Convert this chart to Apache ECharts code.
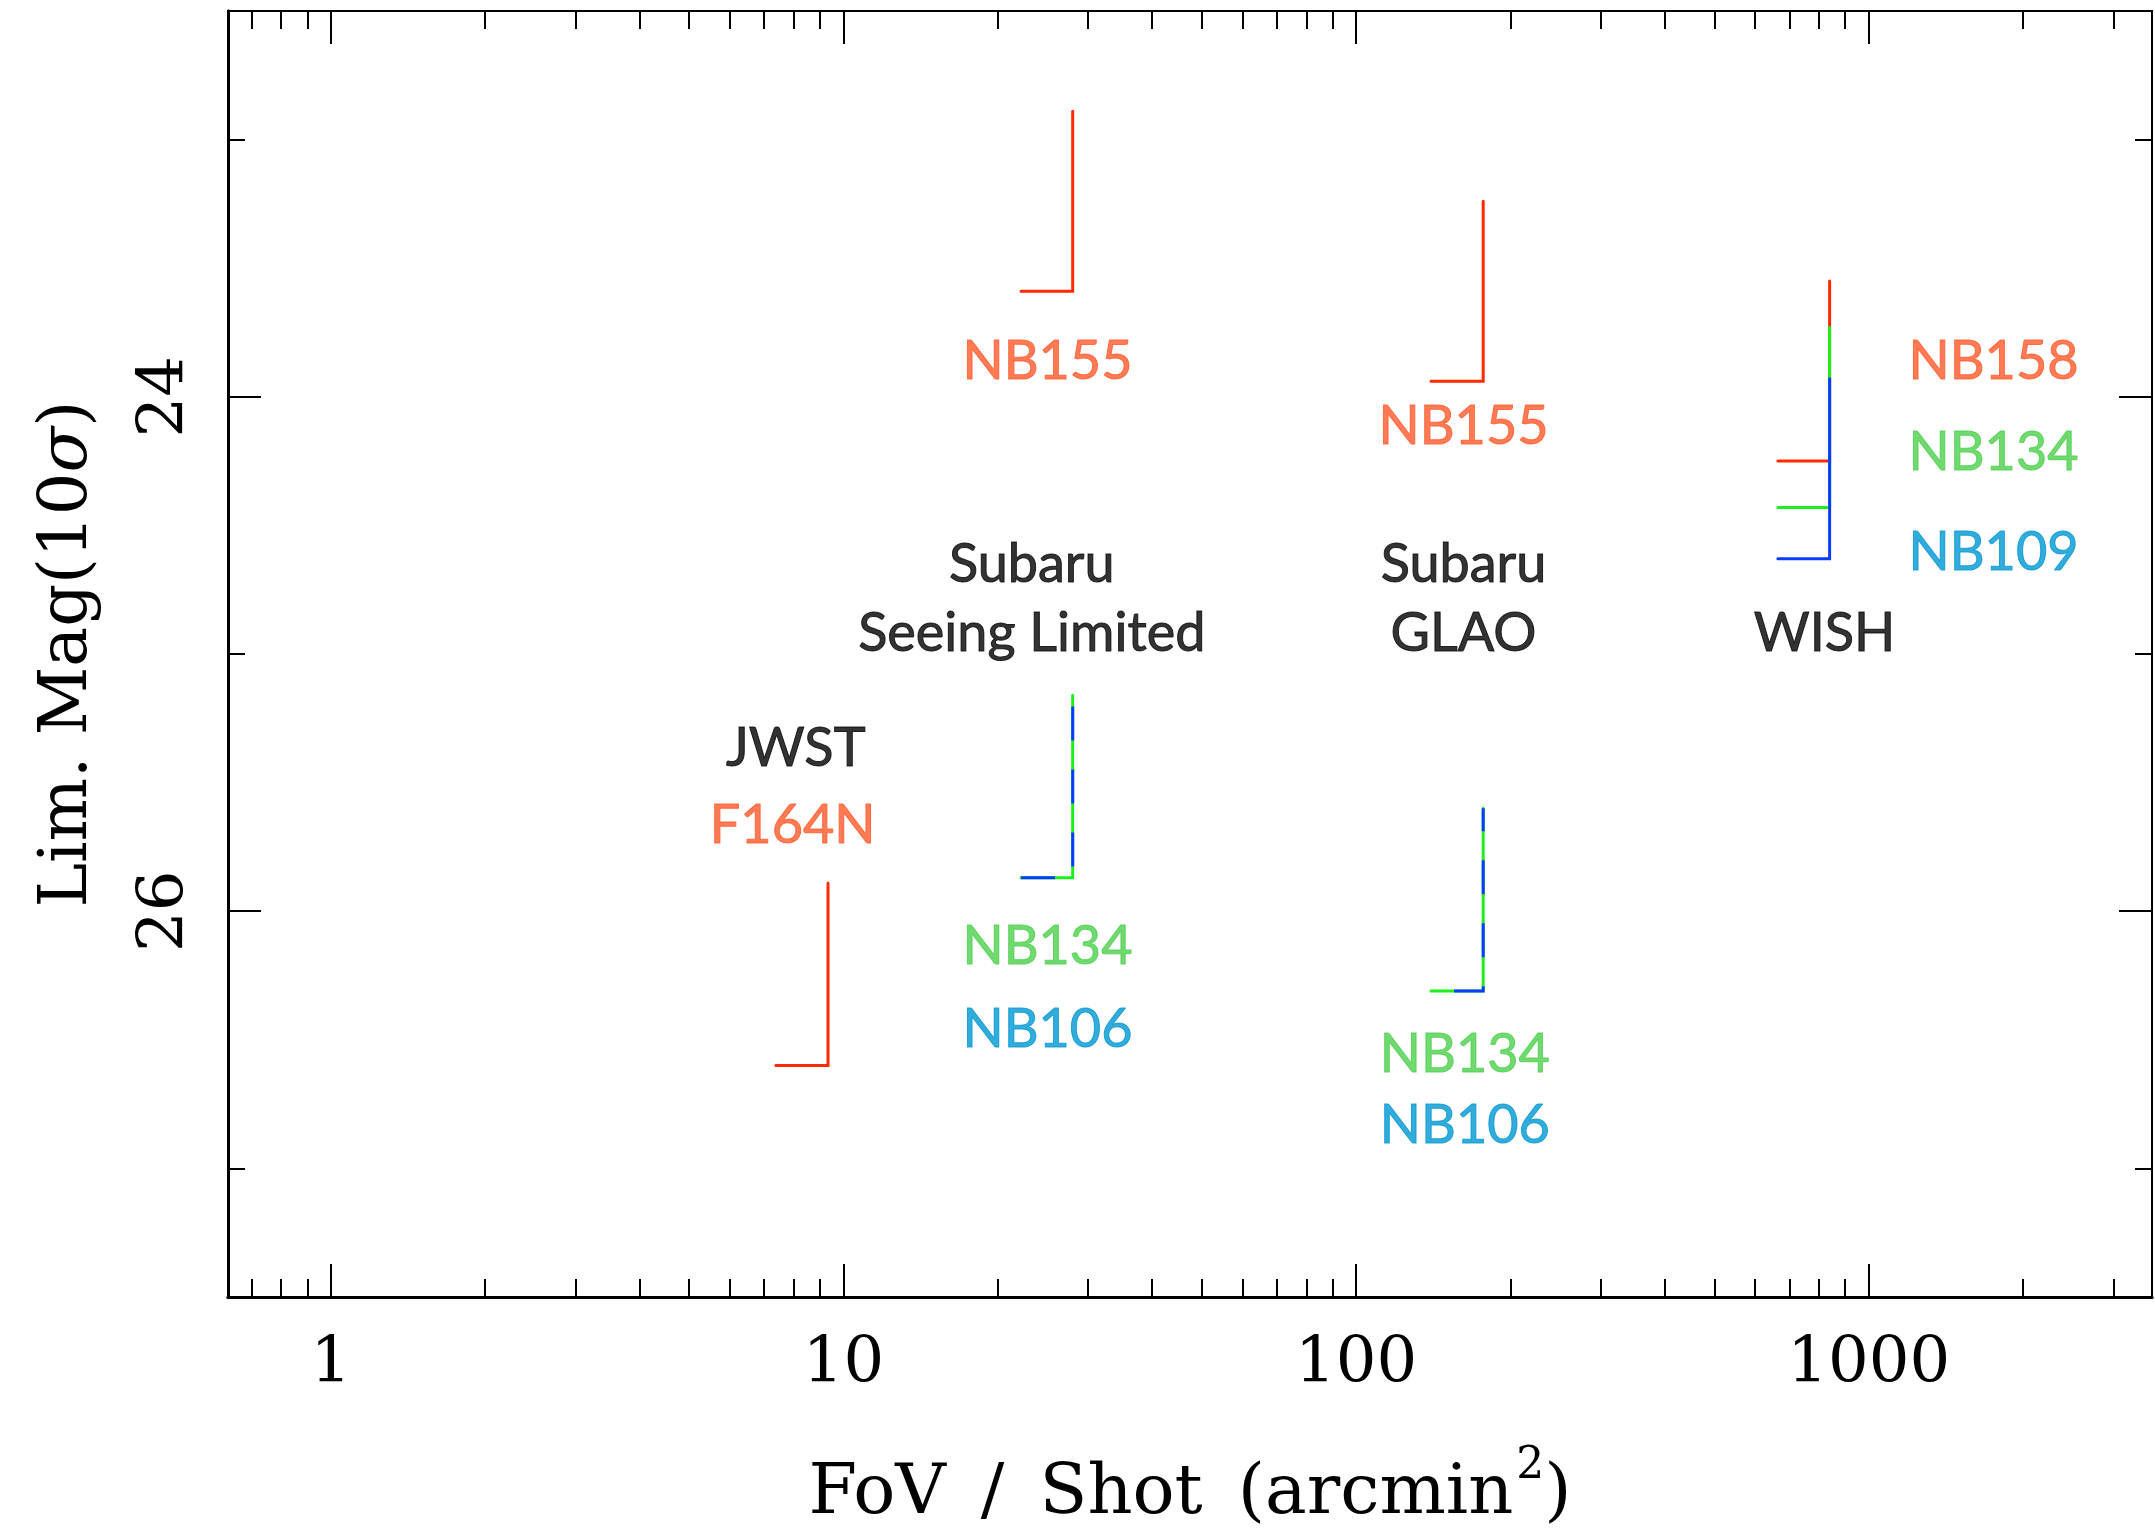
<!DOCTYPE html>
<html>
<head>
<meta charset="utf-8">
<title>Lim. Mag vs FoV / Shot</title>
<script src="https://cdn.jsdelivr.net/npm/echarts@6/dist/echarts.min.js"></script>
<style>
    html, body { margin: 0; padding: 0; background: #fff; }
    #chart { width: 2155px; height: 1539px; }
</style>
</head>
<body>
<div id="chart"></div>
<script>
    // one entry per L-shaped marker: vertical line at fovShot from magBright to magFaint,
    // short horizontal line at magFaint going left to fovLeftEnd
    const lineBand = ['NB155', 'NB155', 'NB158', 'NB134', 'NB109', 'NB134', 'NB106', 'NB134', 'NB106', 'F164N'];
    const fovShot = [28.0, 177, 839, 839, 839, 28.0, 28.0, 177, 177, 9.33];
    const fovLeftEnd = [22.2, 140, 665, 665, 665, 22.2, 22.2, 140, 140, 7.38];
    const magBright = [22.89, 23.24, 23.55, 23.73, 23.93, 25.16, 25.16, 25.60, 25.60, 25.89];
    const magFaint = [23.59, 23.94, 24.25, 24.43, 24.63, 25.87, 25.87, 26.31, 26.31, 26.60];

    // text annotations (data space)
    const labelText = ['NB155', 'NB155', 'NB158', 'NB134', 'NB109', 'Subaru', 'Seeing Limited', 'Subaru', 'GLAO', 'WISH',
        'JWST', 'F164N', 'NB134', 'NB106', 'NB134', 'NB106'];
    const labelFov = [25.0, 162, 1752, 1752, 1752, 23.3, 23.3, 162, 162, 820, 8.07, 7.96, 25.0, 25.0, 163, 163];
    const labelMag = [23.864, 24.114, 23.864, 24.217, 24.607, 24.654, 24.922, 24.654, 24.922, 24.922,
        25.367, 25.666, 26.136, 26.46, 26.556, 26.834];

    // axis ticks
    const xMajorTicks = [1, 10, 100, 1000];
    const xMinorTicks = [0.7, 0.8, 0.9, 2, 3, 4, 5, 6, 7, 8, 9, 20, 30, 40, 50, 60, 70, 80, 90,
        200, 300, 400, 500, 600, 700, 800, 900, 2000, 3000];
    const yMajorTicks = [24, 26];
    const yMinorTicks = [23, 25, 27];

    const lineColor = {NB155: '#ff2a00', NB158: '#ff2a00', F164N: '#ff2a00', NB134: '#1cf01c', NB109: '#0a3cff', NB106: '#0a3cff'};
    const textColor = {NB155: '#ff5a2a', NB158: '#ff5a2a', F164N: '#ff5a2a', NB134: '#4ccf4c', NB109: '#0097d2', NB106: '#0097d2'};
    // NB106 is drawn dashed on top of NB134 where both coincide
    const dashOffset = {6: 0, 8: 40};

    const serif = 'DejaVu Serif';
    const sans = 'Lato';

    function xAxisDef(position, ticks, len, withLabels, lineWidth) {
        return {
            type: 'log',
            logBase: 10,
            min: 0.63,
            max: 3570,
            position: position,
            axisLine: {show: true, lineStyle: {color: '#000', width: lineWidth}},
            axisTick: {show: true, inside: true, length: len, customValues: ticks, lineStyle: {color: '#000', width: 2}},
            axisLabel: withLabels ? {
                show: true,
                customValues: xMajorTicks,
                margin: 36,
                fontFamily: serif,
                fontSize: 64,
                color: '#000',
                formatter: v => String(Math.round(v))
            } : {show: false},
            splitLine: {show: false},
            minorTick: {show: false}
        };
    }

    function yAxisDef(position, ticks, len, withLabels, lineWidth) {
        return {
            type: 'value',
            inverse: true,
            min: 22.5,
            max: 27.5,
            position: position,
            axisLine: {show: true, lineStyle: {color: '#000', width: lineWidth}},
            axisTick: {show: true, inside: true, length: len, customValues: ticks, lineStyle: {color: '#000', width: 2}},
            axisLabel: withLabels ? {
                show: true,
                customValues: yMajorTicks,
                rotate: 90,
                margin: 30,
                fontFamily: serif,
                fontSize: 64,
                color: '#000'
            } : {show: false},
            splitLine: {show: false}
        };
    }

    const xAxes = [
        xAxisDef('bottom', xMajorTicks, 33, true, 3),
        xAxisDef('bottom', xMinorTicks, 18, false, 3),
        xAxisDef('top', xMajorTicks, 33, false, 2),
        xAxisDef('top', xMinorTicks, 18, false, 2)
    ];
    xAxes[0].name = '{n|FoV\u2002/\u2002Shot\u2002(arcmin}{s|2}{n|)}';
    xAxes[0].nameLocation = 'middle';
    xAxes[0].nameGap = 148;
    xAxes[0].nameTextStyle = {
        rich: {
            n: {fontFamily: serif, fontSize: 70, color: '#000', lineHeight: 100},
            s: {fontFamily: serif, fontSize: 44, color: '#000', lineHeight: 44, verticalAlign: 'top', padding: [0, 0, 0, 3]}
        }
    };

    const yAxes = [
        yAxisDef('left', yMajorTicks, 33, true, 3),
        yAxisDef('left', yMinorTicks, 17, false, 3),
        yAxisDef('right', yMajorTicks, 33, false, 2),
        yAxisDef('right', yMinorTicks, 17, false, 2)
    ];
    yAxes[0].name = 'Lim. Mag(10{i|σ})';
    yAxes[0].nameLocation = 'middle';
    yAxes[0].nameGap = 126;
    yAxes[0].nameTextStyle = {
        fontFamily: serif,
        fontSize: 67,
        color: '#000',
        rich: {
            i: {fontFamily: serif, fontSize: 67, fontStyle: 'italic', color: '#000'}
        }
    };

    const series = lineBand.map((band, i) => {
        const dashed = dashOffset[i] !== undefined;
        return {
            name: band + ' ' + i,
            type: 'line',
            xAxisIndex: 0,
            yAxisIndex: 0,
            symbol: 'none',
            silent: true,
            animation: false,
            z: dashed ? 3 : 2,
            lineStyle: {
                color: lineColor[band],
                width: 3,
                cap: dashed ? 'butt' : 'round',
                join: 'miter',
                type: dashed ? [34, 29] : 'solid',
                dashOffset: dashed ? dashOffset[i] : 0
            },
            data: [
                [fovLeftEnd[i], magFaint[i]],
                [fovShot[i], magFaint[i]],
                [fovShot[i], magBright[i]]
            ]
        };
    });

    series.push({
        name: 'labels',
        type: 'scatter',
        xAxisIndex: 0,
        yAxisIndex: 0,
        symbolSize: 0,
        silent: true,
        animation: false,
        z: 5,
        label: {
            show: true,
            position: 'inside',
            fontFamily: sans,
            fontSize: 54,
            formatter: p => p.data.text
        },
        data: labelText.map((t, i) => {
            const c = textColor[t] || '#000';
            return {
                value: [labelFov[i], labelMag[i]],
                text: t,
                label: {color: c, textBorderColor: c, textBorderWidth: 1}
            };
        })
    });

    const chart = echarts.init(document.getElementById('chart'));
    chart.setOption({
        backgroundColor: '#fff',
        animation: false,
        grid: {left: 228, right: 3, top: 11, bottom: 242, containLabel: false},
        xAxis: xAxes,
        yAxis: yAxes,
        series: series
    });
</script>
</body>
</html>
